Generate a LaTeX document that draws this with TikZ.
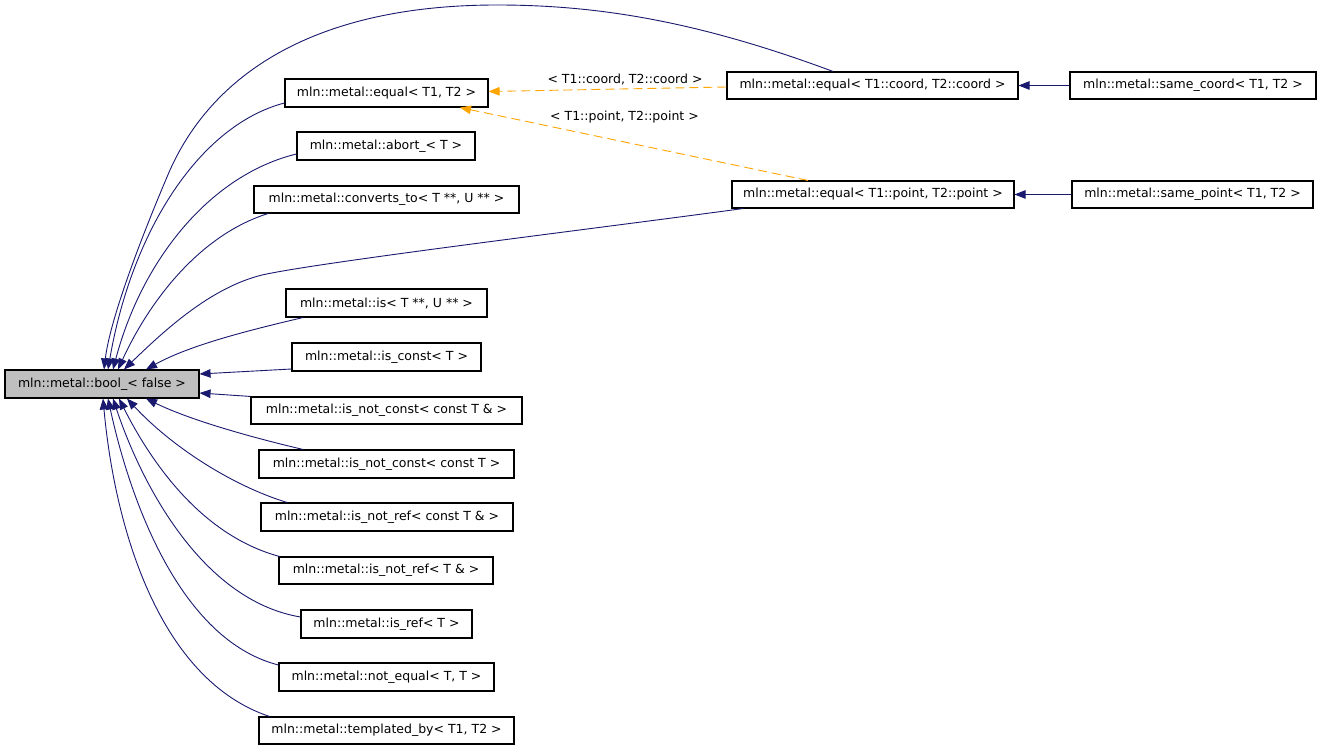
\documentclass[tikz,border=0pt]{standalone}
\usepackage{fontspec}
\setmainfont{DejaVu Sans}
\usetikzlibrary{arrows.meta}
\definecolor{navy}{RGB}{25,25,112}
\definecolor{dorange}{RGB}{255,165,0}
\definecolor{boolgray}{RGB}{191,191,191}
\tikzset{
  box/.style={draw=black, line width=1.1pt, fill=white, inner sep=0pt, minimum height=27pt,
    font=\fontsize{12.5}{14}\selectfont, text=black},
  lbl/.style={inner sep=0pt, font=\fontsize{12.5}{14}\selectfont, text=black},
  edge/.style={draw=navy, line width=0.9pt, -{Triangle[length=11pt,width=8.5pt]}},
  oedge/.style={draw=dorange, line width=0.9pt, dash pattern=on 9pt off 5pt, -{Triangle[length=11pt,width=8.5pt]}}
}
\begin{document}
\begin{tikzpicture}[x=1pt,y=-1pt]
\useasboundingbox (0,0) rectangle (1323,751);
\fill[white] (0,0) rectangle (1323,751);
% nodes
\node[box, fill=boolgray, minimum width=194pt, minimum height=28pt] (bool) at (102,384) {mln::metal::bool\_< false >};
\node[box, minimum width=203pt, minimum height=28pt] (eq) at (386.5,93) {mln::metal::equal< T1, T2 >};
\node[box, minimum width=178pt, minimum height=28pt] (abort) at (386,146) {mln::metal::abort\_< T >};
\node[box, minimum width=265pt] (conv) at (386.5,199.5) {mln::metal::converts\_to< T **, U ** >};
\node[box, minimum width=201pt, minimum height=28pt] (is) at (386.5,303) {mln::metal::is< T **, U ** >};
\node[box, minimum width=189pt, minimum height=28pt] (isconst) at (386.5,357) {mln::metal::is\_const< T >};
\node[box, minimum width=271pt] (isnca) at (386.5,410.5) {mln::metal::is\_not\_const< const T \& >};
\node[box, minimum width=255pt, minimum height=28pt] (isncb) at (386.5,464) {mln::metal::is\_not\_const< const T >};
\node[box, minimum width=252pt, minimum height=28pt] (isnra) at (387,517) {mln::metal::is\_not\_ref< const T \& >};
\node[box, minimum width=214pt] (isnrb) at (386,570.5) {mln::metal::is\_not\_ref< T \& >};
\node[box, minimum width=171pt, minimum height=28pt] (isref) at (386.5,624) {mln::metal::is\_ref< T >};
\node[box, minimum width=215pt, minimum height=28pt] (neq) at (386.5,677) {mln::metal::not\_equal< T, T >};
\node[box, minimum width=255pt] (templ) at (386.5,730.5) {mln::metal::templated\_by< T1, T2 >};
\node[box, minimum width=291pt] (eqcoord) at (872.5,85.5) {mln::metal::equal< T1::coord, T2::coord >};
\node[box, minimum width=246pt] (samecoord) at (1193,85.5) {mln::metal::same\_coord< T1, T2 >};
\node[box, minimum width=282pt] (eqpoint) at (873,194.5) {mln::metal::equal< T1::point, T2::point >};
\node[box, minimum width=241pt] (samepoint) at (1192.5,194.5) {mln::metal::same\_point< T1, T2 >};
% edge labels
\node[lbl] (lcoord) at (625,79) {< T1::coord, T2::coord >};
\node[lbl] (lpoint) at (624.5,117) {< T1::point, T2::point >};
% edges to bool (top)
\draw[edge] ([xshift=-39.5pt]eqcoord.north) .. controls (700,22) and (600,5) .. (497,5)
   .. controls (320,5) and (215,70) .. (170,170) .. controls (140,240) and (110,320) .. ([xshift=2pt]bool.north);
\draw[edge] ([yshift=-10pt]eq.west) .. controls (200,125) and (132,230) .. ([xshift=6pt]bool.north);
\draw[edge] ([yshift=-8pt]abort.west) .. controls (210,175) and (142,260) .. ([xshift=11pt]bool.north);
\draw[edge] ([xshift=-118.5pt]conv.south) .. controls (200,235) and (150,300) .. ([xshift=16pt]bool.north);
\draw[edge] ([xshift=-130pt]eqpoint.south) .. controls (600,228) and (320,262) .. (262,275)
   .. controls (210,288) and (165,330) .. ([xshift=22pt]bool.north);
\draw[edge] ([xshift=-83.5pt]is.south) .. controls (250,330) and (190,345) .. ([xshift=44pt]bool.north);
% edges to bool (right)
\draw[edge] ([yshift=-12pt]isconst.west) -- ([yshift=10pt]bool.east);
\draw[edge] (isnca.north west) -- ([yshift=-9pt]bool.east);
% edges to bool (bottom)
\draw[edge] ([xshift=-83.5pt]isncb.north) .. controls (250,437) and (190,420) .. ([xshift=44pt]bool.south);
\draw[edge] ([xshift=-100pt]isnra.north) .. controls (230,485) and (170,445) .. ([xshift=25pt]bool.south);
\draw[edge] ([xshift=1pt]isnrb.north west) .. controls (200,535) and (150,460) .. ([xshift=17pt]bool.south);
\draw[edge] ([yshift=7pt]isref.west) .. controls (200,600) and (140,480) .. ([xshift=11pt]bool.south);
\draw[edge] ([yshift=12pt]neq.west) .. controls (180,640) and (130,500) .. ([xshift=6pt]bool.south);
\draw[edge] ([xshift=11pt]templ.north west) .. controls (160,680) and (115,530) .. ([xshift=1pt]bool.south);
% template instantiation edges
\draw[oedge] ([yshift=-1.5pt]eqcoord.west) -- ([yshift=1.5pt]eq.east);
\draw[oedge] ([xshift=-65pt]eqpoint.north) -- ([xshift=73.5pt]eq.south);
% right column
\draw[edge] (samecoord.west) -- (eqcoord.east);
\draw[edge] (samepoint.west) -- (eqpoint.east);
\end{tikzpicture}
\end{document}
